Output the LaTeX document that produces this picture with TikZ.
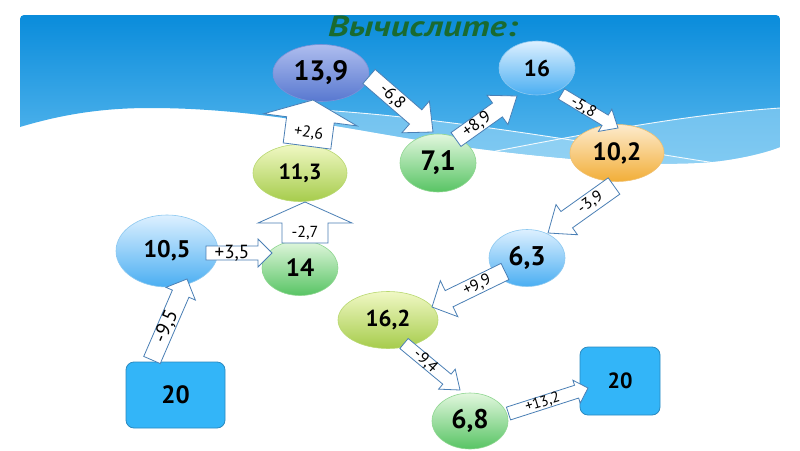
\documentclass[tikz,border=0pt]{standalone}
\usepackage{fontspec}
\setmainfont{PT Sans}
\usetikzlibrary{shapes.geometric,calc}
\definecolor{panelTop}{HTML}{0A8CDB}
\definecolor{panelBot}{HTML}{62BDF0}
\definecolor{bandA}{HTML}{9FD8F6}
\definecolor{titleGreen}{HTML}{1A6A30}
\definecolor{vTop}{HTML}{AEBDEE}\definecolor{vBot}{HTML}{5878D0}\definecolor{vBd}{HTML}{7A92D8}
\definecolor{bTop}{HTML}{DDF0FF}\definecolor{bBot}{HTML}{4AAEF2}\definecolor{bBd}{HTML}{8CC8F0}
\definecolor{gTop}{HTML}{E2F7DE}\definecolor{gBot}{HTML}{58C464}\definecolor{gBd}{HTML}{8ED690}
\definecolor{yTop}{HTML}{F0F8C4}\definecolor{yBot}{HTML}{A6CC4C}\definecolor{yBd}{HTML}{B8D870}
\definecolor{oTop}{HTML}{FDEBCD}\definecolor{oBot}{HTML}{F2AE38}\definecolor{oBd}{HTML}{F0C070}
\definecolor{rectFill}{HTML}{33B5F8}\definecolor{rectBd}{HTML}{2A8AC0}
\definecolor{arrBd}{HTML}{4A7FB5}
\tikzset{
  num/.style={font=\bfseries\fontsize{#1}{#1}\selectfont, text=black},
  lbl/.style={font=\fontsize{#1}{#1}\selectfont, text=black, inner sep=0pt},
  bubble/.style={ellipse, inner sep=0pt, line width=0.6pt},
  cviolet/.style={top color=vTop, bottom color=vBot, draw=vBd},
  cblue/.style={top color=bTop, bottom color=bBot, draw=bBd},
  cgreen/.style={top color=gTop, bottom color=gBot, draw=gBd},
  cyellow/.style={top color=yTop, bottom color=yBot, draw=yBd},
  corange/.style={top color=oTop, bottom color=oBot, draw=oBd},
  startbox/.style={rectangle, rounded corners=8pt, fill=rectFill, draw=rectBd, line width=0.8pt, inner sep=0pt},
  blockarrow/.style={fill=white, draw=arrBd, line width=0.8pt, line join=miter}
}
% #1 name, #2 start, #3 tip, #4 shaft half width, #5 head half width, #6 head length, #7 label rotation, #8 label size, #9 label
\newcommand\barrow[9]{%
  \coordinate (#1s) at #2;
  \coordinate (#1t) at #3;
  \coordinate (#1c) at ($(#1t)!#6pt!(#1s)$);
  \draw[blockarrow] ($(#1s)!#4pt!90:(#1t)$) -- ($(#1c)!#4pt!-90:(#1s)$) -- ($(#1c)!#5pt!-90:(#1s)$) -- (#1t) -- ($(#1c)!#5pt!90:(#1s)$) -- ($(#1c)!#4pt!90:(#1s)$) -- ($(#1s)!#4pt!-90:(#1t)$) -- cycle;
  \node[lbl=#8, rotate=#7] (#1l) at ($(#1s)!0.5!(#1c)$) {#9};
}
\begin{document}
\begin{tikzpicture}[x=1pt,y=-1pt]
\useasboundingbox (0,0) rectangle (800,450);
\fill[white] (0,0) rectangle (800,450);
% background panel
\begin{scope}
  \clip (20,127) .. controls (60,115) and (100,108) .. (150,108)
        .. controls (260,108) and (350,130) .. (450,145)
        .. controls (560,160) and (660,168) .. (720,161)
        .. controls (750,157) and (770,151) .. (780,147) -- (780,15) -- (20,15) -- cycle;
  \shade[top color=panelTop, bottom color=panelBot, rounded corners=4pt] (20,15) rectangle (780,175);
  \fill[bandA, opacity=0.55] (320,110) .. controls (450,118) and (600,145) .. (715,163) -- (780,175) -- (320,175) -- cycle;
  \fill[bandA, opacity=0.55] (470,156) .. controls (580,135) and (680,115) .. (780,108) -- (780,175) -- (470,175) -- cycle;
  \draw[white, line width=0.9pt, opacity=0.9] (320,110) .. controls (450,118) and (600,145) .. (715,163);
  \draw[white, line width=0.9pt, opacity=0.9] (470,156) .. controls (580,135) and (680,115) .. (780,108);
\end{scope}
% title
\node[font=\bfseries\itshape\fontsize{29}{29}\selectfont, text=titleGreen, anchor=base, inner sep=0pt] (title) at (423,36) {\scalebox{1.25}[1]{Вычислите:}};
% number nodes
\node[bubble, cviolet, minimum width=96pt, minimum height=57pt, num=28] (n139) at (321,73) {13,9};
\node[bubble, cblue, minimum width=76pt, minimum height=54pt, num=23] (n16) at (537,68) {16};
\node[bubble, cgreen, minimum width=76pt, minimum height=58pt, num=28] (n71) at (438,163) {7,1};
\node[bubble, corange, minimum width=94pt, minimum height=57pt, num=25] (n102) at (617,153) {10,2};
\node[bubble, cyellow, minimum width=94pt, minimum height=57pt, num=22] (n113) at (300,173) {11,3};
\node[bubble, cblue, minimum width=102pt, minimum height=72pt, num=24] (n105) at (167,251) {10,5};
\node[bubble, cgreen, minimum width=76pt, minimum height=55pt, num=25] (n14) at (300,268) {14};
\node[bubble, cblue, minimum width=76pt, minimum height=57pt, num=27] (n63) at (527,258) {6,3};
\node[bubble, cyellow, minimum width=100pt, minimum height=57pt, num=23] (n162) at (388,320) {16,2};
\node[bubble, cgreen, minimum width=76pt, minimum height=56pt, num=27] (n68) at (470,421) {6,8};
\node[startbox, minimum width=99pt, minimum height=66pt, num=25] (s20a) at (175.5,395) {20};
\node[startbox, minimum width=80pt, minimum height=68pt, num=22] (s20b) at (620,381) {20};
% block arrows
\barrow{a1}{($(s20a)+(-23.5,-35)$)}{($(n105)+(20,28)$)}{9}{16}{16}{66.6}{20}{-9,5}
\barrow{a2}{($(n105)+(39,2)$)}{($(n14)+(-28,-15)$)}{7}{14}{14}{0}{19}{+3,5}
\barrow{a3}{($(n14)+(5,-25)$)}{($(n113)+(5,29)$)}{23}{47}{21}{0}{16}{-2,7}
\barrow{a4}{($(n113)+(7,-27)$)}{($(n139)+(-8,27)$)}{24}{47}{20}{-8}{16}{+2,6}
\barrow{a5}{($(n139)+(48,3.5)$)}{($(n71)+(-5,-31)$)}{9.4}{21}{23}{-43}{17}{-6,8}
\barrow{a6}{($(n71)+(18,-23.5)$)}{($(n16)+(-20,28)$)}{8.5}{18}{24}{36}{17}{+8,9}
\barrow{a7}{($(n16)+(24.5,26)$)}{($(n102)+(1,-25)$)}{6}{13}{15}{-31}{16}{-5,8}
\barrow{a8}{($(n102)+(-3,33)$)}{($(n63)+(21,-25)$)}{10}{18.5}{23}{35}{16}{-3,9}
\barrow{a9}{($(n63)+(-22,13.5)$)}{($(n162)+(44,-13)$)}{9}{20}{19}{27}{16}{+9,9}
\barrow{a10}{($(n162)+(16,23.5)$)}{($(n68)+(-10,-31)$)}{6.5}{13}{17}{-42}{16}{-9,4}
\barrow{a11}{($(n68)+(38.5,-7.5)$)}{($(s20b)+(-32,7)$)}{6.7}{12}{12}{17}{15}{+13,2}
\end{tikzpicture}
\end{document}
